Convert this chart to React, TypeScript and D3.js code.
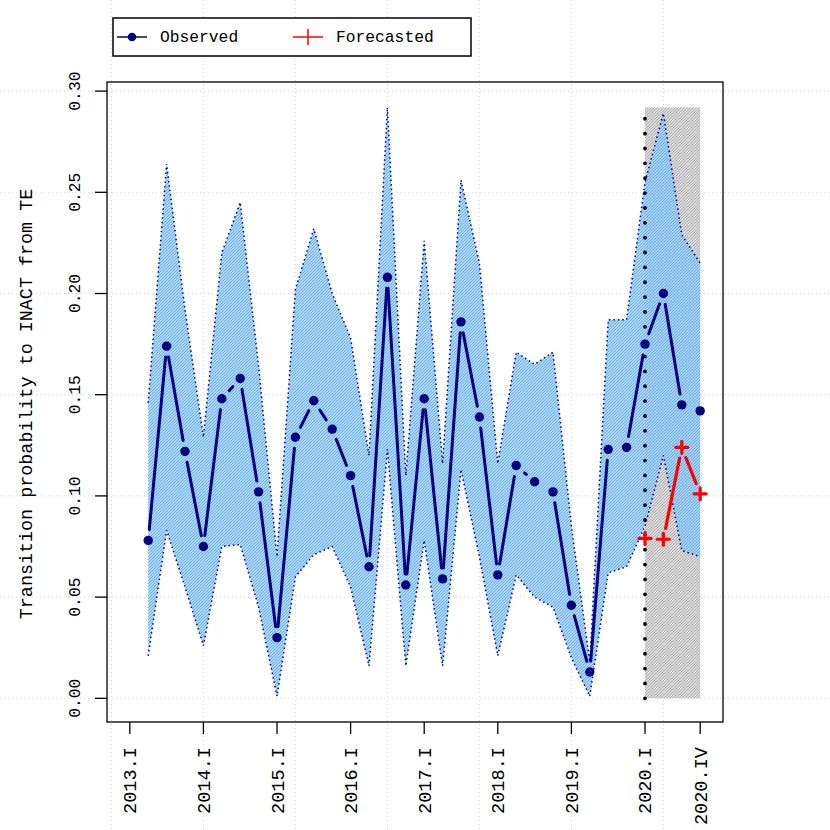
import React from "react";
import * as d3 from "d3";

// ---- data (period index: 1 = 2013.I, 2 = 2013.II, ... 32 = 2020.IV) ----
const firstObservedPeriod = 2;
const observed = [
  0.078, 0.174, 0.122, 0.075, 0.148, 0.158, 0.102, 0.030, 0.129, 0.147, 0.133,
  0.110, 0.065, 0.208, 0.056, 0.148, 0.059, 0.186, 0.139, 0.061, 0.115, 0.107,
  0.102, 0.046, 0.013, 0.123, 0.124, 0.175, 0.200, 0.145, 0.142,
];
const upperBand = [
  0.146, 0.264, 0.192, 0.129, 0.220, 0.245, 0.164, 0.070, 0.202, 0.232, 0.200,
  0.178, 0.120, 0.292, 0.110, 0.226, 0.116, 0.256, 0.215, 0.116, 0.171, 0.165,
  0.171, 0.085, 0.018, 0.187, 0.187, 0.255, 0.289, 0.229, 0.215,
];
const lowerBand = [
  0.021, 0.083, 0.055, 0.026, 0.075, 0.076, 0.045, 0.001, 0.060, 0.071, 0.075,
  0.055, 0.016, 0.123, 0.016, 0.078, 0.016, 0.113, 0.070, 0.021, 0.061, 0.050,
  0.045, 0.020, 0.001, 0.062, 0.065, 0.085, 0.120, 0.073, 0.070,
];
const firstForecastPeriod = 29;
const forecasted = [0.079, 0.0786, 0.124, 0.101];

const xTickPeriods = [1, 5, 9, 13, 17, 21, 25, 29, 32];
const xTickLabels = [
  "2013.I", "2014.I", "2015.I", "2016.I", "2017.I", "2018.I", "2019.I", "2020.I", "2020.IV",
];
const yTicks = [0, 0.05, 0.1, 0.15, 0.2, 0.25, 0.3];
const yTickLabels = ["0.00", "0.05", "0.10", "0.15", "0.20", "0.25", "0.30"];
const gridPeriods = [0, 5, 10, 15, 20, 25, 30];
const yTitle = "Transition probability to INACT from TE";
const legendLabels = ["Observed", "Forecasted"];

// ---- layout ----
const W = 830;
const H = 830;
const L = 107, R = 723, T = 82, B = 722;
const FONT = "'Liberation Mono', 'Courier New', monospace";
const NAVY = "#000080";
const RED = "#ff0000";

const x = d3.scaleLinear().domain([-0.24, 33.24]).range([L, R]);
const y = d3.scaleLinear().domain([-0.0117, 0.3045]).range([B, T]);

type P = [number, number];

function gapped(pts: P[], gap: number) {
  const segs: [number, number, number, number][] = [];
  for (let i = 0; i < pts.length - 1; i++) {
    const [x1, y1] = pts[i];
    const [x2, y2] = pts[i + 1];
    const dx = x2 - x1, dy = y2 - y1;
    const d = Math.hypot(dx, dy);
    if (d > 2 * gap) {
      const ux = dx / d, uy = dy / d;
      segs.push([x1 + ux * gap, y1 + uy * gap, x2 - ux * gap, y2 - uy * gap]);
    }
  }
  return segs;
}

export default function App() {
  const obsPts: P[] = observed.map((v, i) => [x(firstObservedPeriod + i), y(v)]);
  const fcPts: P[] = forecasted.map((v, i) => [x(firstForecastPeriod + i), y(v)]);
  const bandData = observed.map((_, i) => ({
    t: firstObservedPeriod + i,
    lo: lowerBand[i],
    hi: upperBand[i],
  }));
  const area = d3
    .area<{ t: number; lo: number; hi: number }>()
    .x((d) => x(d.t))
    .y0((d) => y(d.lo))
    .y1((d) => y(d.hi));
  const upLine = d3.line<{ t: number; lo: number; hi: number }>().x((d) => x(d.t)).y((d) => y(d.hi));
  const loLine = d3.line<{ t: number; lo: number; hi: number }>().x((d) => x(d.t)).y((d) => y(d.lo));
  const bandMax = d3.max(upperBand) as number;
  const lastPeriod = firstObservedPeriod + observed.length - 1;

  const obsSegs = gapped(obsPts, 11);
  const fcSegs = gapped(fcPts, 11);
  const bandPath = area(bandData) || "";

  return (
    <svg
      width={W}
      height={H}
      style={{ position: "absolute", left: 0, top: 0, display: "block", background: "#fff" }}
    >
      <defs>
        <pattern id="blueHatch" patternUnits="userSpaceOnUse" width="3" height="3">
          <path d="M-1,1 L1,-1 M0,3 L3,0 M2,4 L4,2" stroke="#56a8f0" strokeWidth="0.85" />
        </pattern>
        <pattern id="grayHatch" patternUnits="userSpaceOnUse" width="3" height="3">
          <rect x="0" y="0" width="3" height="3" fill="#d8d8d8" />
          <path d="M-1,1 L1,-1 M0,3 L3,0 M2,4 L4,2" stroke="#a8a8a8" strokeWidth="0.8" />
        </pattern>
      </defs>
      <rect x={0} y={0} width={W} height={H} fill="#fff" />

      {/* grid */}
      <g stroke="#d3d3d3" strokeWidth={1} strokeDasharray="1 3">
        {yTicks.map((v) => (
          <line key={"gy" + v} x1={0} x2={W} y1={y(v)} y2={y(v)} />
        ))}
        {gridPeriods.map((t) => (
          <line key={"gx" + t} x1={x(t)} x2={x(t)} y1={0} y2={H} />
        ))}
      </g>

      {/* forecast zone */}
      <rect
        x={x(firstForecastPeriod)}
        y={y(bandMax)}
        width={x(lastPeriod) - x(firstForecastPeriod)}
        height={y(0) - y(bandMax)}
        fill="url(#grayHatch)"
      />

      {/* band */}
      <path d={bandPath} fill="#a2d0f6" fillOpacity={0.85} />
      <path d={bandPath} fill="url(#blueHatch)" />
      <path d={upLine(bandData) || ""} fill="none" stroke={NAVY} strokeWidth={1.5} strokeDasharray="1.5 3" />
      <path d={loLine(bandData) || ""} fill="none" stroke={NAVY} strokeWidth={1.5} strokeDasharray="1.5 3" />

      {/* forecast start marker */}
      <line
        x1={x(firstForecastPeriod)}
        x2={x(firstForecastPeriod)}
        y1={y(0)}
        y2={y(bandMax)}
        stroke="#000"
        strokeWidth={3.8}
        strokeLinecap="round"
        strokeDasharray="0.01 14.85"
      />

      {/* observed */}
      <g stroke={NAVY} strokeWidth={3} strokeLinecap="round">
        {obsSegs.map((s, i) => (
          <line key={"os" + i} x1={s[0]} y1={s[1]} x2={s[2]} y2={s[3]} />
        ))}
      </g>
      <g fill={NAVY}>
        {obsPts.map((p, i) => (
          <circle key={"op" + i} cx={p[0]} cy={p[1]} r={4.7} />
        ))}
      </g>

      {/* forecasted */}
      <g stroke={RED} strokeWidth={3.2} strokeLinecap="round">
        {fcSegs.map((s, i) => (
          <line key={"fs" + i} x1={s[0]} y1={s[1]} x2={s[2]} y2={s[3]} />
        ))}
        {fcPts.map((p, i) => (
          <g key={"fp" + i}>
            <line x1={p[0] - 6} x2={p[0] + 6} y1={p[1]} y2={p[1]} />
            <line x1={p[0]} x2={p[0]} y1={p[1] - 6} y2={p[1] + 6} />
          </g>
        ))}
      </g>

      {/* box */}
      <rect x={L} y={T} width={R - L} height={B - T} fill="none" stroke="#000" strokeWidth={1.3} />

      {/* y axis */}
      <g stroke="#000" strokeWidth={1.3}>
        {yTicks.map((v) => (
          <line key={"yt" + v} x1={L - 12} x2={L} y1={y(v)} y2={y(v)} />
        ))}
      </g>
      <g fontFamily={FONT} fontSize={16.3} fill="#000">
        {yTicks.map((v, i) => (
          <text key={"yl" + v} transform={`translate(80,${y(v)}) rotate(-90)`} textAnchor="middle">
            {yTickLabels[i]}
          </text>
        ))}
      </g>
      <text
        transform={`translate(32,${(T + B) / 2 + 2}) rotate(-90)`}
        textAnchor="middle"
        fontFamily={FONT}
        fontSize={18.4}
        fill="#000"
      >
        {yTitle}
      </text>

      {/* x axis */}
      <g stroke="#000" strokeWidth={1.3}>
        {xTickPeriods.map((t) => (
          <line key={"xt" + t} x1={x(t)} x2={x(t)} y1={B} y2={B + 12} />
        ))}
      </g>
      <g fontFamily={FONT} fontSize={18.6} fill="#000">
        {xTickPeriods.map((t, i) => (
          <text key={"xl" + t} transform={`translate(${x(t) + 6.5},747) rotate(-90)`} textAnchor="end">
            {xTickLabels[i]}
          </text>
        ))}
      </g>

      {/* legend */}
      <rect x={113} y={18} width={358} height={38} fill="#fff" stroke="#000" strokeWidth={1.5} />
      <line x1={117} x2={147} y1={37} y2={37} stroke={NAVY} strokeWidth={1.5} />
      <circle cx={132} cy={37} r={4.3} fill={NAVY} />
      <text x={160} y={37} dominantBaseline="central" fontFamily={FONT} fontSize={16.3} fill="#000">
        {legendLabels[0]}
      </text>
      <line x1={293} x2={323} y1={37} y2={37} stroke={RED} strokeWidth={1.5} />
      <line x1={308} x2={308} y1={29} y2={45} stroke={RED} strokeWidth={1.5} />
      <text x={336} y={37} dominantBaseline="central" fontFamily={FONT} fontSize={16.3} fill="#000">
        {legendLabels[1]}
      </text>
    </svg>
  );
}
